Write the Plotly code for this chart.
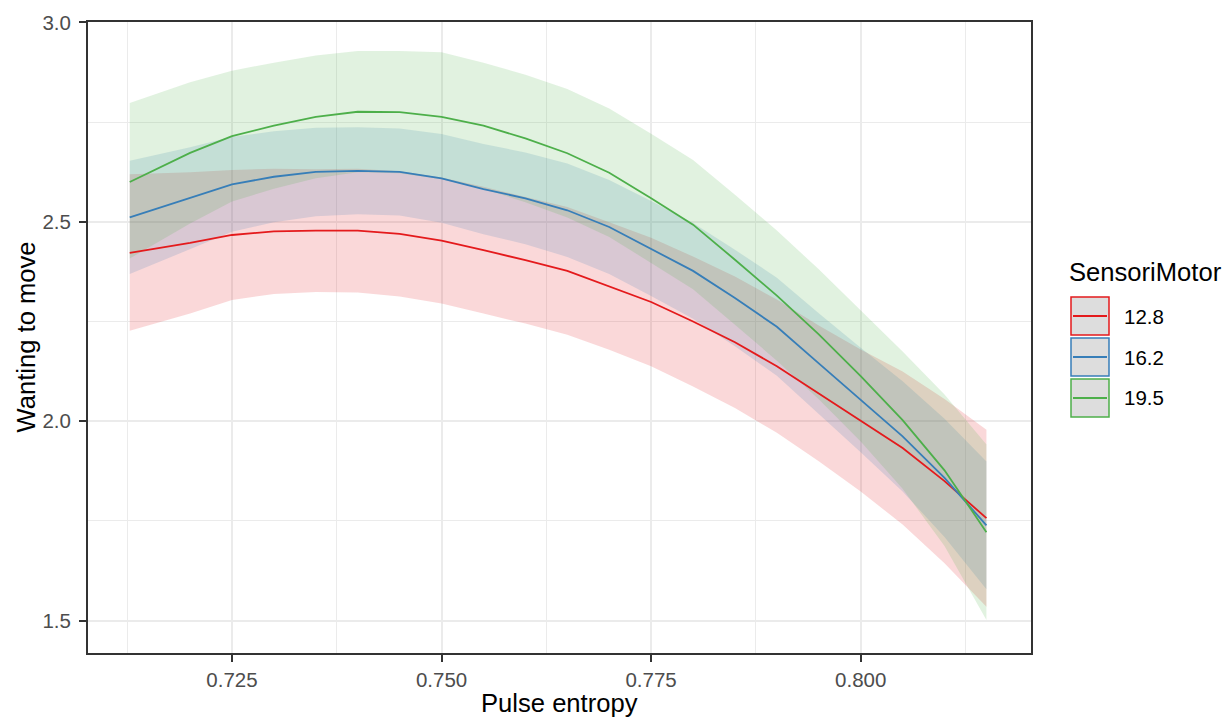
import plotly.graph_objects as go

# ---------------- data ----------------
pulse_entropy = [0.7128, 0.720, 0.725, 0.730, 0.735, 0.740, 0.745, 0.750, 0.755, 0.760,
                 0.765, 0.770, 0.775, 0.780, 0.785, 0.790, 0.795, 0.800, 0.805, 0.810, 0.815]

groups = ["12.8", "16.2", "19.5"]

fit_12_8 = [2.422, 2.447, 2.467, 2.476, 2.478, 2.478, 2.470, 2.453, 2.429, 2.404,
            2.377, 2.339, 2.299, 2.250, 2.198, 2.138, 2.070, 2.002, 1.933, 1.850, 1.757]
upper_12_8 = [2.619, 2.624, 2.630, 2.633, 2.632, 2.633, 2.627, 2.611, 2.588, 2.563,
              2.537, 2.499, 2.460, 2.413, 2.363, 2.305, 2.240, 2.180, 2.125, 2.056, 1.979]
lower_12_8 = [2.227, 2.270, 2.304, 2.319, 2.324, 2.323, 2.313, 2.295, 2.270, 2.245,
              2.217, 2.179, 2.138, 2.087, 2.033, 1.971, 1.900, 1.824, 1.741, 1.644, 1.535]

fit_16_2 = [2.511, 2.559, 2.594, 2.613, 2.625, 2.628, 2.625, 2.609, 2.582, 2.559,
            2.529, 2.487, 2.433, 2.377, 2.309, 2.237, 2.145, 2.053, 1.962, 1.858, 1.739]
upper_16_2 = [2.653, 2.687, 2.713, 2.727, 2.736, 2.737, 2.734, 2.720, 2.695, 2.674,
              2.646, 2.605, 2.552, 2.497, 2.430, 2.360, 2.271, 2.184, 2.100, 2.006, 1.899]
lower_16_2 = [2.369, 2.431, 2.475, 2.499, 2.514, 2.519, 2.516, 2.498, 2.469, 2.444,
              2.412, 2.369, 2.314, 2.257, 2.188, 2.114, 2.019, 1.922, 1.824, 1.710, 1.579]

fit_19_5 = [2.600, 2.673, 2.715, 2.741, 2.763, 2.776, 2.775, 2.763, 2.741, 2.709,
            2.672, 2.623, 2.559, 2.493, 2.405, 2.315, 2.218, 2.113, 2.003, 1.877, 1.722]
upper_19_5 = [2.798, 2.850, 2.879, 2.899, 2.917, 2.928, 2.928, 2.925, 2.899, 2.869,
              2.833, 2.784, 2.721, 2.655, 2.568, 2.478, 2.381, 2.277, 2.175, 2.067, 1.942]
lower_19_5 = [2.408, 2.496, 2.551, 2.583, 2.609, 2.624, 2.622, 2.607, 2.583, 2.549,
              2.511, 2.462, 2.397, 2.331, 2.242, 2.152, 2.055, 1.949, 1.831, 1.687, 1.502]

x_ticks = [0.725, 0.750, 0.775, 0.800]
x_minor = [0.7125, 0.7375, 0.7625, 0.7875, 0.8125]
y_ticks = [1.5, 2.0, 2.5, 3.0]
y_minor = [1.75, 2.25, 2.75]

# ---------------- styles ----------------
colors = {"12.8": "#E41A1C", "16.2": "#377EB8", "19.5": "#4DAF4A"}
fills = {"12.8": "rgba(228,26,28,0.17)", "16.2": "rgba(55,126,184,0.17)", "19.5": "rgba(77,175,74,0.17)"}
series = {
    "12.8": (fit_12_8, lower_12_8, upper_12_8),
    "16.2": (fit_16_2, lower_16_2, upper_16_2),
    "19.5": (fit_19_5, lower_19_5, upper_19_5),
}

FONT = "Liberation Sans, Arial, sans-serif"
W, H = 1223, 719
L, R, T, B = 88, 1031, 22, 653


def px2x(px):
    return (px - L) / (R - L)


def py2y(py):
    return (B - py) / (B - T)


fig = go.Figure()

# ribbons first
for g in groups:
    fit, lo, up = series[g]
    fig.add_trace(go.Scatter(
        x=pulse_entropy + pulse_entropy[::-1],
        y=up + lo[::-1],
        fill="toself", fillcolor=fills[g],
        line=dict(width=0), mode="lines",
        hoverinfo="skip", showlegend=False,
    ))

# lines on top
for g in groups:
    fit, lo, up = series[g]
    fig.add_trace(go.Scatter(
        x=pulse_entropy, y=fit, mode="lines", name=g,
        line=dict(color=colors[g], width=1.8),
        showlegend=False,
    ))

grid = "#EBEBEB"
axis_common = dict(
    showline=True, mirror=True, linecolor="#333333", linewidth=2,
    ticks="outside", ticklen=7, tickwidth=2, tickcolor="#333333",
    showgrid=True, gridcolor=grid, gridwidth=2, zeroline=False,
    tickfont=dict(family=FONT, size=20.5, color="#4D4D4D"),
)

fig.update_xaxes(
    range=[0.707822, 0.820316], tickvals=x_ticks, tickformat=".3f",
    minor=dict(tickvals=x_minor, showgrid=True, gridcolor=grid, gridwidth=1.2, ticks=""),
    **axis_common,
)
fig.update_yaxes(
    range=[1.419, 3.001], tickvals=y_ticks, tickformat=".1f",
    ticklabelstandoff=4,
    minor=dict(tickvals=y_minor, showgrid=True, gridcolor=grid, gridwidth=1.2, ticks=""),
    **axis_common,
)

annotations = [
    dict(text="Pulse entropy", xref="paper", yref="paper", x=0.5, y=py2y(719),
         xanchor="center", yanchor="bottom", showarrow=False,
         font=dict(family=FONT, size=25.6, color="black")),
    dict(text="Wanting to move", xref="paper", yref="paper", x=px2x(25), y=0.5,
         xanchor="center", yanchor="middle", textangle=-90, showarrow=False,
         font=dict(family=FONT, size=25.6, color="black")),
    dict(text="SensoriMotor", xref="paper", yref="paper", x=px2x(1067), y=py2y(272),
         xanchor="left", yanchor="middle", showarrow=False,
         font=dict(family=FONT, size=25.6, color="black")),
]

shapes = []
key_left, key_right = 1071, 1109
key_top0, key_step, key_size = 297, 41, 38
for i, g in enumerate(groups):
    top = key_top0 + i * key_step
    bot = top + key_size
    mid = (top + bot) / 2
    shapes.append(dict(type="rect", xref="paper", yref="paper",
                       x0=px2x(key_left), x1=px2x(key_right), y0=py2y(bot), y1=py2y(top),
                       fillcolor="#DDDDDD", line=dict(color=colors[g], width=1.5)))
    shapes.append(dict(type="line", xref="paper", yref="paper",
                       x0=px2x(key_left + 2), x1=px2x(key_right - 2), y0=py2y(mid), y1=py2y(mid),
                       line=dict(color=colors[g], width=2)))
    annotations.append(dict(text=g, xref="paper", yref="paper", x=px2x(1122), y=py2y(mid),
                            xanchor="left", yanchor="middle", showarrow=False,
                            font=dict(family=FONT, size=20.5, color="black")))

fig.update_layout(
    width=W, height=H, autosize=False,
    margin=dict(l=L, r=W - R, t=T, b=H - B, pad=0),
    plot_bgcolor="white", paper_bgcolor="white",
    showlegend=False,
    annotations=annotations, shapes=shapes,
    font=dict(family=FONT),
)

fig.write_html(
    "out.html",
    config={"displayModeBar": False},
    post_script="document.body.style.margin='0';document.body.style.overflow='hidden';",
)
